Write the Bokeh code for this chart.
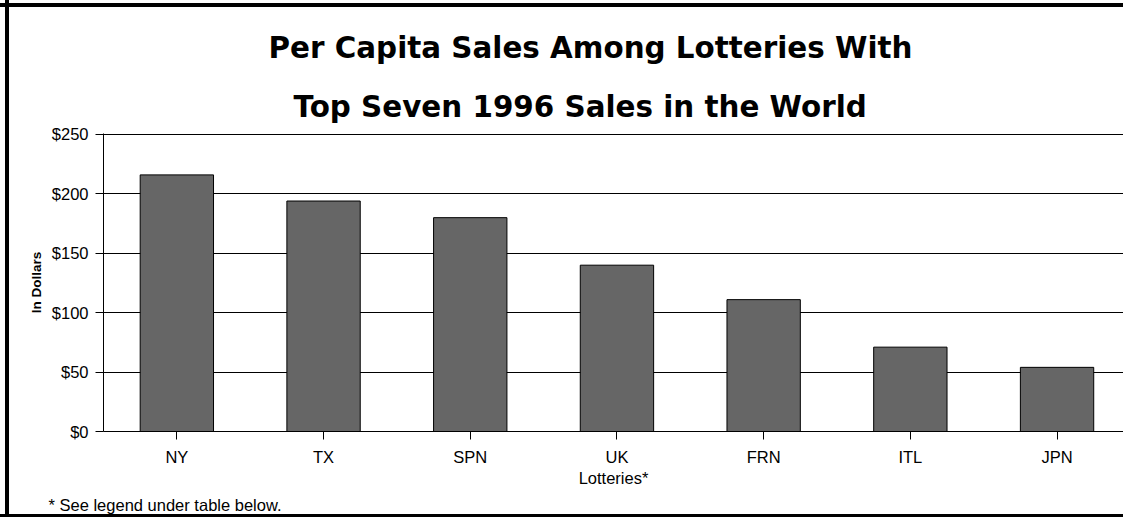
from bokeh.plotting import figure
from bokeh.models import Range1d, FixedTicker, Title, ColumnDataSource
from bokeh.embed import file_html
from bokeh.resources import INLINE

# ---- data ----
categories = ["NY", "TX", "SPN", "UK", "FRN", "ITL", "JPN"]
per_capita_sales = [216, 194, 180, 140, 111, 71, 54]
y_ticks = [0, 50, 100, 150, 200, 250]
y_tick_labels = ["$0", "$50", "$100", "$150", "$200", "$250"]
title_lines = ["Per Capita Sales Among Lotteries With",
               "Top Seven 1996 Sales in the World"]
x_title = "Lotteries*"
y_title = "In Dollars"
footnote = "* See legend under table below."

W, H = 1123, 517
FL, FB, FT = 103, 432, 133   # frame left / bottom / top in canvas px
band = 146.7                 # px per category
px_per_dollar = 298 / 250

xs = list(range(len(categories)))
src = ColumnDataSource(dict(x=xs, top=per_capita_sales, cat=categories))

border_css = ("linear-gradient(to right, transparent 5px, #000 5px, #000 9px, transparent 9px), "
              "linear-gradient(to bottom, transparent 3px, #000 3px, #000 7px, transparent 7px, "
              "transparent 514px, #000 514px), "
              "#ffffff")

p = figure(width=W, height=H, output_backend="svg", toolbar_location=None,
           x_range=Range1d(-0.5, -0.5 + (W - FL) / band),
           y_range=Range1d(0, 250 + (FB - FT - 298) / px_per_dollar),
           min_border_left=FL, min_border_right=0,
           min_border_top=FT, min_border_bottom=H - FB,
           styles={"background": border_css})
p.background_fill_color = "white"
p.border_fill_color = None
p.outline_line_color = None

p.vbar(x="x", top="top", width=0.5, bottom=0, source=src,
       fill_color="#666666", line_color="black", line_width=1)

# x axis
xa = p.xaxis[0]
xa.ticker = FixedTicker(ticks=xs)
xa.major_label_overrides = {i: c for i, c in zip(xs, categories)}
xa.minor_tick_line_color = None
xa.major_tick_in = 0
xa.major_tick_out = 8
xa.major_label_standoff = 8
xa.major_label_text_font = "Liberation Sans"
xa.major_label_text_font_size = "16.5px"
xa.major_label_text_color = "black"
xa.axis_label = x_title
xa.axis_label_text_font = "Liberation Sans"
xa.axis_label_text_font_style = "normal"
xa.axis_label_text_font_size = "16.5px"
xa.axis_label_text_color = "black"
xa.axis_label_standoff = 0
xa.axis_line_color = "black"
xa.major_tick_line_color = "black"

# y axis
ya = p.yaxis[0]
ya.ticker = FixedTicker(ticks=y_ticks)
ya.major_label_overrides = {t: l for t, l in zip(y_ticks, y_tick_labels)}
ya.minor_tick_line_color = None
ya.major_tick_in = 0
ya.major_tick_out = 8
ya.major_label_standoff = 7
ya.major_label_text_font = "Liberation Sans"
ya.major_label_text_font_size = "16.5px"
ya.major_label_text_color = "black"
ya.axis_label = y_title
ya.axis_label_text_font = "Liberation Sans"
ya.axis_label_text_font_style = "bold"
ya.axis_label_text_font_size = "13.5px"
ya.axis_label_text_color = "black"
ya.axis_label_standoff = 5
ya.axis_line_color = "black"
ya.major_tick_line_color = "black"

p.xgrid.visible = False
p.ygrid.ticker = FixedTicker(ticks=y_ticks)
p.ygrid.grid_line_color = "black"
p.ygrid.grid_line_width = 1
p.ygrid.grid_line_alpha = 1.0

# title lines (second line closest to the plot, added first)
for txt, left_x, so in [(title_lines[1], 293, 20), (title_lines[0], 268, 25)]:
    p.add_layout(Title(text=txt, align="left", offset=left_x - FL,
                       standoff=so, text_font="DejaVu Sans",
                       text_font_style="bold", text_font_size="29.4px",
                       text_color="black"), "above")

# footnote
p.add_layout(Title(text=footnote, align="left", offset=48 - FL, standoff=8,
                   text_font="Liberation Sans", text_font_style="normal",
                   text_font_size="16.5px", text_color="black"), "below")

open("out.html", "w").write(file_html(p, INLINE))
